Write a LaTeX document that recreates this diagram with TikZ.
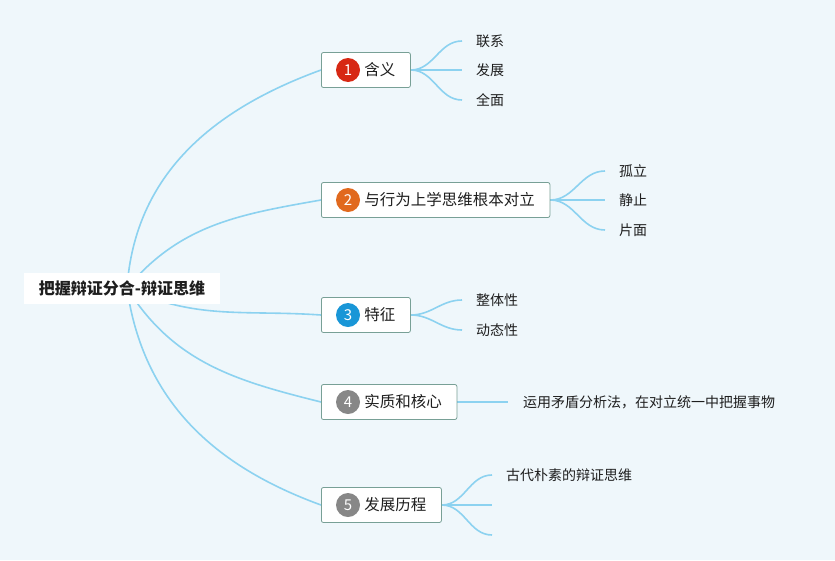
\documentclass[tikz,border=0pt]{standalone}
\usepackage{fontspec}
\setmainfont{Noto Sans CJK SC}
\usetikzlibrary{positioning,backgrounds}
\pgfdeclarelayer{edges}
\pgfsetlayers{background,edges,main}
\definecolor{paper}{RGB}{239,247,251}
\definecolor{branchblue}{RGB}{140,210,240}
\definecolor{boxline}{RGB}{120,160,150}
\definecolor{inkdark}{RGB}{30,30,30}
\definecolor{badgered}{RGB}{215,40,20}
\definecolor{badgeorange}{RGB}{225,105,30}
\definecolor{badgeblue}{RGB}{25,150,215}
\definecolor{badgegray}{RGB}{135,135,135}
\tikzset{
  root/.style={rectangle, fill=white, inner xsep=15pt, minimum height=31pt, text=inkdark, font=\fontsize{16}{18}\selectfont\bfseries},
  topic/.style={rectangle, draw=boxline, line width=0.8pt, rounded corners=2pt, fill=white, anchor=west, minimum height=35pt, inner xsep=15pt, inner ysep=0pt, text=inkdark, font=\fontsize{15.5}{18}\selectfont},
  badge/.style={circle, minimum size=24pt, inner sep=0pt, text=white, font=\fontsize{15}{16}\selectfont},
  leaf/.style={anchor=west, inner xsep=14pt, inner ysep=2pt, text=inkdark, font=\fontsize{14}{16}\selectfont},
  branch/.style={draw=branchblue, line width=1.6pt}
}
\begin{document}
\begin{tikzpicture}[x=1pt, y=1pt]
  \begin{pgfonlayer}{background}
    \fill[paper] (0,0) rectangle (835,-560);
  \end{pgfonlayer}
  \useasboundingbox (0,0) rectangle (835,-560);
  % Root
  \node[root] (root) at (122,-288) {把握辩证分合-辩证思维};
  \coordinate (hub) at (127,-288);
  % Topics with numbered badges
  \foreach \n/\y/\c/\t in {1/70/badgered/含义, 2/200/badgeorange/与行为上学思维根本对立, 3/315/badgeblue/特征, 4/402/badgegray/实质和核心, 5/505/badgegray/发展历程} {
    \node[topic] (topic-\n) at (321,-\y) {\hspace*{28pt}\t};
    \node[badge, fill=\c] (badge-\n) at ([xshift=27pt]topic-\n.west) {\n};
  }
  % Leaves of topic 1
  \foreach \m/\y/\t in {1/41/联系, 2/70/发展, 3/100/全面}
    \node[leaf] (leaf1-\m) at (462,-\y) {\t};
  % Leaves of topic 2
  \foreach \m/\y/\t in {1/171/孤立, 2/200/静止, 3/230/片面}
    \node[leaf] (leaf2-\m) at (605,-\y) {\t};
  % Leaves of topic 3
  \foreach \m/\y/\t in {1/300/整体性, 2/330/动态性}
    \node[leaf] (leaf3-\m) at (462,-\y) {\t};
  % Leaf of topic 4
  \node[leaf, inner xsep=15pt] (leaf4-1) at (508,-402) {运用矛盾分析法，在对立统一中把握事物};
  % Leaves of topic 5
  \node[leaf] (leaf5-1) at (492,-475) {古代朴素的辩证思维};
  \coordinate (leaf5-2) at (492,-505);
  \coordinate (leaf5-3) at (492,-535);
  % Connectors
  \begin{pgfonlayer}{edges}
    \foreach \n/\o/\i in {1/86/200, 2/50/190, 3/-25/176, 4/-58/166, 5/-82/160}
      \draw[branch] (hub) to[out=\o, in=\i] (topic-\n.west);
    \foreach \m in {1,2,3}
      \draw[branch] (topic-1.east) to[out=0, in=180] (leaf1-\m.west);
    \foreach \m in {1,2,3}
      \draw[branch] (topic-2.east) to[out=0, in=180] (leaf2-\m.west);
    \foreach \m in {1,2}
      \draw[branch] (topic-3.east) to[out=0, in=180] (leaf3-\m.west);
    \draw[branch] (topic-4.east) -- (leaf4-1.west);
    \draw[branch] (topic-5.east) to[out=0, in=180] (leaf5-1.west);
    \draw[branch] (topic-5.east) to[out=0, in=180] (leaf5-2);
    \draw[branch] (topic-5.east) to[out=0, in=180] (leaf5-3);
  \end{pgfonlayer}
\end{tikzpicture}
\end{document}
